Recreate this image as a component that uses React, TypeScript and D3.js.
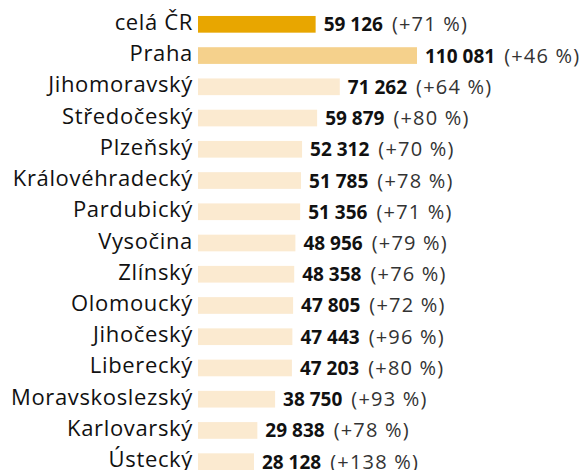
import * as d3 from "d3";

const regions = [
  "celá ČR", "Praha", "Jihomoravský", "Středočeský", "Plzeňský", "Královéhradecký",
  "Pardubický", "Vysočina", "Zlínský", "Olomoucký", "Jihočeský", "Liberecký",
  "Moravskoslezský", "Karlovarský", "Ústecký",
];
const values = [
  59126, 110081, 71262, 59879, 52312, 51785, 51356, 48956, 48358, 47805, 47443, 47203,
  38750, 29838, 28128,
];
const growth = [71, 46, 64, 80, 70, 78, 71, 79, 76, 72, 96, 80, 93, 78, 138];

const width = 583;
const height = 470;
const barX = 198;

const fmt = d3.formatLocale({ decimal: ",", thousands: "\u00a0", grouping: [3], currency: ["", " Kč"] }).format(",d");

const barColor = (i: number) => (i === 0 ? "#e8a600" : i === 1 ? "#f5d18c" : "#fbead0");

export default function App() {
  const x = d3.scaleLinear().domain([0, 110081]).range([0, 219]);
  const y = d3.scaleBand<string>().domain(regions).range([8.7, 477.3]).paddingInner(0.4655).paddingOuter(0.2328);
  const bw = y.bandwidth();

  return (
    <svg width={width} height={height} style={{ position: "absolute", left: 0, top: 0, background: "#fff" }}
      fontFamily="'Open Sans', sans-serif">
      {regions.map((r, i) => {
        const yy = y(r)!;
        const w = x(values[i]);
        return (
          <g key={r}>
            <text x={193} y={yy + bw / 2 + 5.5} textAnchor="end" fontSize={22} letterSpacing={0.65} fill="#111">{r}</text>
            <rect x={barX} y={yy} width={w} height={bw} fill={barColor(i)} />
            <text x={barX + w + 8} y={yy + bw / 2 + 7} fontSize={19} fill="#111">
              <tspan fontWeight={700}>{fmt(values[i])}</tspan>
              <tspan dx={9} fontSize={20} letterSpacing={1.2} fill="#333">{`(+${growth[i]}\u00a0%)`}</tspan>
            </text>
          </g>
        );
      })}
    </svg>
  );
}
